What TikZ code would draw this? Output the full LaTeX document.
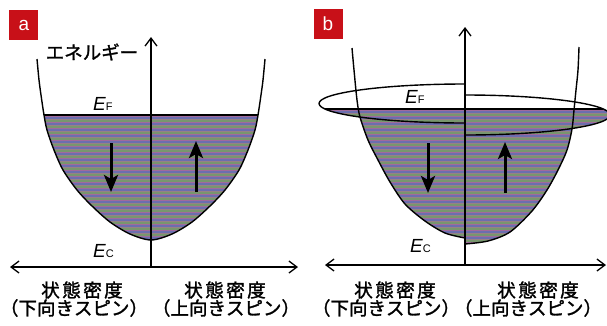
\documentclass[tikz,border=0pt]{standalone}
\usepackage{fontspec}
\setmainfont{Liberation Sans}
\newfontfamily\jpfont[FakeBold=1.5]{Noto Sans CJK JP}
\usetikzlibrary{arrows.meta}
\definecolor{lblred}{RGB}{200,16,24}
\definecolor{fbase}{RGB}{130,122,145}
\definecolor{sA}{RGB}{120,150,110}
\definecolor{sB}{RGB}{160,106,156}
\definecolor{sC}{RGB}{108,110,175}
\definecolor{sD}{RGB}{150,130,132}
\newcommand\dosfill{%
  \fill[fbase] (300,0) rectangle (0,330);
  \fill[fbase] (300,0) rectangle (610,330);
  \foreach \yy in {78,84,...,258}{
    \fill[sA] (0,\yy) rectangle (610,\yy+1.5);
    \fill[sB] (0,\yy+1.5) rectangle (610,\yy+3);
    \fill[sC] (0,\yy+3) rectangle (610,\yy+4.5);
    \fill[sD] (0,\yy+4.5) rectangle (610,\yy+6);
  }}
\newcommand\EF[1]{{\itshape E}{\fontsize{11}{11}\selectfont #1}}
\tikzset{
  curve/.style={line width=1.4pt, black},
  axis/.style={line width=1.3pt, black},
  fermi/.style={line width=1.6pt, black},
  spin/.style={line width=3pt, black, -{Stealth[length=17pt,width=14pt,inset=4pt]}},
  lbl/.style={fill=lblred, text=white, minimum width=29pt, minimum height=30pt, inner sep=0pt, font=\fontsize{19}{19}\selectfont},
  jp/.style={inner sep=0pt, font=\jpfont\fontsize{18.5}{20}\selectfont},
  elab/.style={inner sep=0pt, anchor=base west, font=\fontsize{19}{19}\selectfont},
}
\begin{document}
\begin{tikzpicture}[x=1pt,y=-1pt]
\useasboundingbox (0,0) rectangle (607,325);

% ---------------- panel a ----------------
\begin{scope}
  \clip (0,115) rectangle (300,300);
  \clip plot[smooth] coordinates {(37,59) (39,80) (41,95) (44,115) (47,130) (54,150) (63,170) (77,190) (92,206) (110,222) (130,234) (151,240) (172,234) (192,222) (210,206) (225,190) (239,170) (248,150) (255,130) (258,115) (261,95) (263,80) (265,59)} -- cycle;
  \dosfill
\end{scope}
\draw[curve] plot[smooth] coordinates {(37,59) (39,80) (41,95) (44,115) (47,130) (54,150) (63,170) (77,190) (92,206) (110,222) (130,234) (151,240) (172,234) (192,222) (210,206) (225,190) (239,170) (248,150) (255,130) (258,115) (261,95) (263,80) (265,59)};
\coordinate (aFL) at (44,115);
\coordinate (aFR) at (258,115);
\draw[fermi] (aFL) -- (aFR);
\coordinate (aO) at (151,267);
\coordinate (aTop) at (151,37);
\coordinate (aLeft) at (10,267);
\coordinate (aRight) at (298,267);
\draw[axis, -{Straight Barb[length=8pt,width=12pt]}] (aO) -- (aTop);
\draw[axis, {Straight Barb[length=8pt,width=12pt]}-{Straight Barb[length=8pt,width=12pt]}] (aLeft) -- (aRight);
\coordinate (aD1) at (111,143);
\coordinate (aD2) at (111,192);
\coordinate (aU1) at (196,192);
\coordinate (aU2) at (196,141);
\draw[spin] (aD1) -- (aD2);
\draw[spin] (aU1) -- (aU2);
\node[lbl] (la) at (23.8,25) {a};
\node[jp] (aen) at (92,52) {エネルギー};
\node[elab] (aef) at (93,110) {\EF{F}};
\node[elab] (aec) at (93,257) {\EF{C}};
\node[jp] (ad1) at (82,290) {状\hspace{2.5pt}態\hspace{2.5pt}密\hspace{2.5pt}度};
\node[jp] (ad2) at (225,290) {状\hspace{2.5pt}態\hspace{2.5pt}密\hspace{2.5pt}度};
\node[jp] (as1) at (74,308) {（下向きスピン）};
\node[jp] (as2) at (226,308) {（上向きスピン）};

% ---------------- panel b ----------------
\begin{scope}
  \clip (300,109) rectangle (465,300);
  \clip plot[smooth] coordinates {(352,48) (354,70) (357,100) (360,117) (368,140) (378,160) (390,182) (405,204) (425,221) (445,233) (465,238)} -- (465,48) -- cycle;
  \dosfill
\end{scope}
\begin{scope}
  \clip (300,109) rectangle (465,300);
  \clip (465,103.5) ellipse [x radius=146, y radius=19.5];
  \dosfill
\end{scope}
\begin{scope}
  \clip (465,109) rectangle (612,300);
  \clip plot[smooth] coordinates {(465,244) (488,241) (510,232) (532,211) (547,190) (558,170) (567,150) (572,129) (574,110) (576,90) (578,70) (579,47)} -- (465,47) -- cycle;
  \dosfill
\end{scope}
\begin{scope}
  \clip (465,109) rectangle (612,300);
  \clip (465,115) ellipse [x radius=145, y radius=20];
  \dosfill
\end{scope}
\draw[curve] plot[smooth] coordinates {(352,48) (354,70) (357,100) (360,117) (368,140) (378,160) (390,182) (405,204) (425,221) (445,233) (465,238)};
\draw[curve] plot[smooth] coordinates {(465,244) (488,241) (510,232) (532,211) (547,190) (558,170) (567,150) (572,129) (574,110) (576,90) (578,70) (579,47)};
\coordinate (bLb) at (465,123);
\coordinate (bRt) at (465,95);
\draw[curve] (bLb) arc[start angle=90, end angle=270, x radius=146, y radius=19.5];
\draw[curve] (bRt) arc[start angle=-90, end angle=90, x radius=145, y radius=20];
\coordinate (bFL) at (325,109);
\coordinate (bFR) at (603,109);
\draw[fermi] (bFL) -- (bFR);
\coordinate (bO) at (465,265);
\coordinate (bTop) at (465,27);
\coordinate (bLeft) at (325,265);
\coordinate (bRight) at (606,265);
\draw[axis, -{Straight Barb[length=8pt,width=12pt]}] (bO) -- (bTop);
\draw[axis, {Straight Barb[length=8pt,width=12pt]}-{Straight Barb[length=8pt,width=12pt]}] (bLeft) -- (bRight);
\coordinate (bD1) at (428,143);
\coordinate (bD2) at (428,193);
\coordinate (bU1) at (505,193);
\coordinate (bU2) at (505,142);
\draw[spin] (bD1) -- (bD2);
\draw[spin] (bU1) -- (bU2);
\node[lbl] (lb) at (328,24) {b};
\node[elab] (bef) at (405,103) {\EF{F}};
\node[elab] (bec) at (410,252) {\EF{C}};
\node[jp] (bd1) at (395,290) {状\hspace{2.5pt}態\hspace{2.5pt}密\hspace{2.5pt}度};
\node[jp] (bd2) at (538,290) {状\hspace{2.5pt}態\hspace{2.5pt}密\hspace{2.5pt}度};
\node[jp] (bs1) at (386,308) {（下向きスピン）};
\node[jp] (bs2) at (528,308) {（上向きスピン）};
\end{tikzpicture}
\end{document}
